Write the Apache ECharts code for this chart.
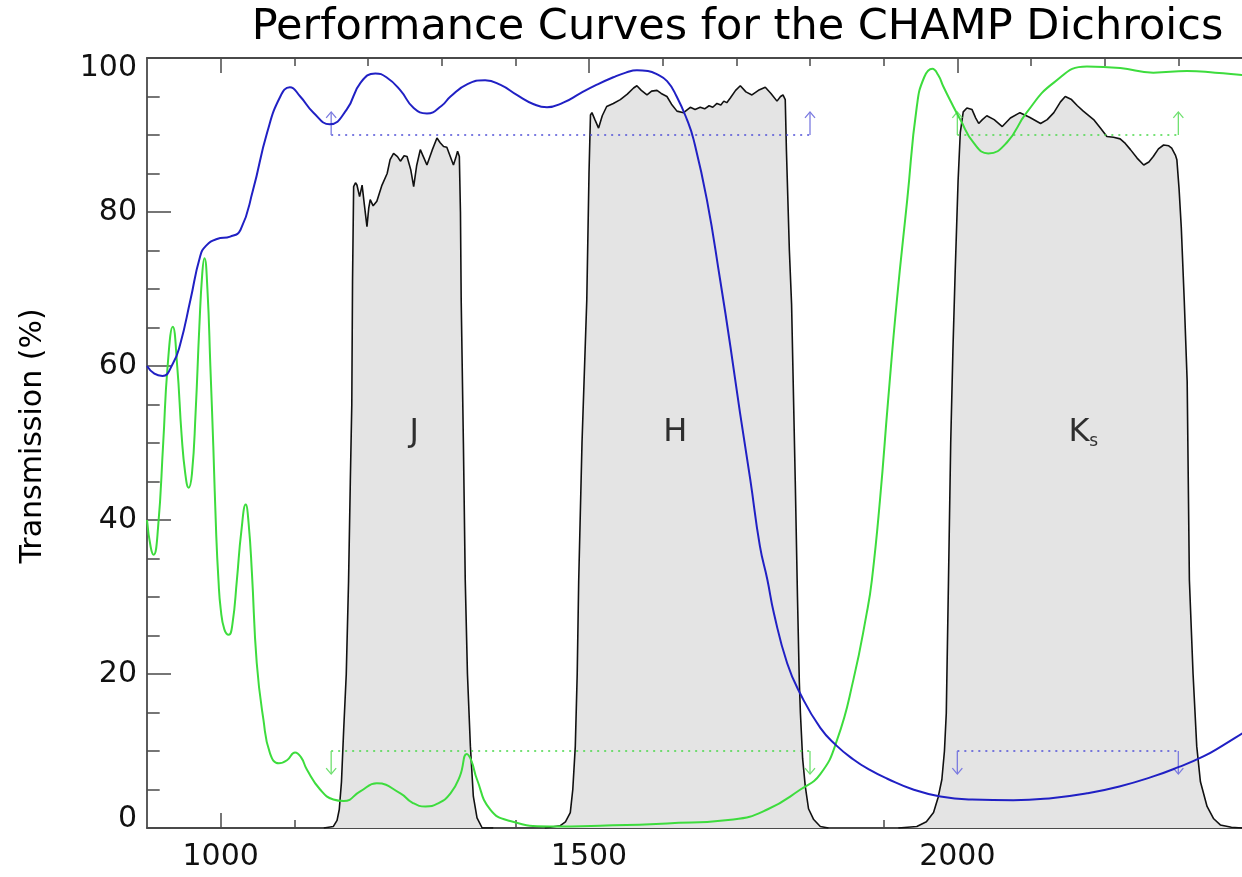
<!DOCTYPE html>
<html>
<head>
<meta charset="utf-8">
<script src="https://cdn.jsdelivr.net/npm/echarts@6/dist/echarts.min.js"></script>
<style>html,body{margin:0;padding:0;background:#fff}#c{width:1242px;height:877px}</style>
</head>
<body>
<div id="c"></div>
<script>
// ---------------- data ----------------
const titleText = 'Performance Curves for the CHAMP Dichroics';
const yTitle = 'Transmission (%)';
const xMajorTicks = [1000, 1500, 2000];
const xMinorTicks = [1100, 1200, 1300, 1400, 1600, 1700, 1800, 1900, 2100, 2200, 2300];

// Dichroic 1 (blue)
const blueCurve = [
  [900,60.0],[910,59.0],[921,58.7],[935,60.3],[945,62.8],[959,68.6],[972,74.2],[980,75.6],
  [995,76.5],[1013,76.8],[1027,77.7],[1044,82.9],[1063,90.3],[1081,95.0],[1094,96.2],[1108,95.0],
  [1126,92.9],[1148,91.4],[1171,93.3],[1190,96.8],[1210,98.0],[1225,97.5],[1244,95.8],[1262,93.5],
  [1280,92.8],[1300,93.8],[1312,95.0],[1335,96.6],[1359,97.1],[1380,96.5],[1402,95.2],[1425,94.0],
  [1443,93.6],[1465,94.2],[1488,95.4],[1510,96.5],[1533,97.5],[1550,98.1],[1565,98.4],[1580,98.3],
  [1592,97.9],[1606,97.0],[1619,95.0],[1633,92.0],[1642,89.4],[1660,81.6],[1678,71.2],[1692,62.5],
  [1705,53.9],[1719,45.2],[1732,36.6],[1742,32.3],[1751,27.9],[1769,21.4],[1787,17.4],[1814,13.0],
  [1836,10.7],[1859,8.9],[1880,7.6],[1905,6.4],[1940,5.0],[1977,4.1],[2020,3.7],[2076,3.6],
  [2130,3.9],[2176,4.5],[2220,5.4],[2266,6.7],[2300,7.9],[2334,9.3],[2360,10.7],[2387,12.3],[2400,13.1]
];

// Dichroic 2 (green)
const greenCurve = [
  [900,40.0],[905,36.5],[909,35.5],[915,39],[922,50],[928,60],[935,65.1],[941,60],[947,51],
  [952,46],[956.5,44.2],[961,46],[966,54],[971,65],[975,72],[978,74],[982,70],[986,60],
  [990,49.6],[994,38],[997,32.2],[1000,28.5],[1005,25.8],[1011,25.1],[1016,26.5],[1022,32.2],
  [1028,38.5],[1034,42.0],[1038,39.5],[1042.5,33],[1049,21.4],[1058,14.1],[1067,9.7],[1079,8.4],
  [1090,8.8],[1101,9.8],[1109,9.2],[1117,7.6],[1135,5.0],[1153,3.7],[1167,3.5],[1190,4.8],
  [1212,5.8],[1244,4.5],[1260,3.3],[1278,2.8],[1295,3.2],[1312,4.5],[1325,6.8],[1334,9.6],
  [1340,8.8],[1348,6.3],[1366,2.4],[1393,0.9],[1447,0.2],[1515,0.3],[1606,0.6],[1696,1.1],
  [1742,2.4],[1787,5.0],[1814,7.0],[1837,11.5],[1859,19.3],[1877,27.9],[1884,32.2],[1895,42.6],
  [1906,55.5],[1918,68.6],[1932,81.6],[1945,93.7],[1955,97.5],[1966,98.6],[1974,97.8],[1981,96.3],
  [1993,94.0],[2004,92.0],[2022,89.0],[2042,87.6],[2067,89.0],[2094,92.9],[2131,96.8],[2176,98.9],
  [2221,98.7],[2266,98.1],[2312,98.3],[2350,98.1],[2387,97.8],[2400,97.7]
];

// Filter bandpasses
const filterJ = [
  [1140,0],[1153,0.2],[1158,1.0],[1161,2.4],[1164,6],[1167,12.8],[1170.5,20],[1173.6,32],[1176,45],
  [1178,55],[1179,71],[1180.5,83.3],[1183,83.8],[1185,83.5],[1188.6,82.0],[1192,83.5],[1195,81],
  [1198.6,78.1],[1201,80.5],[1203,81.6],[1207,80.8],[1212,81.4],[1219,83.5],[1226,85.0],[1230,86.8],
  [1234.7,87.6],[1240,87.2],[1244,86.6],[1249,87.3],[1253,87.2],[1258,85.5],[1262,83.3],[1266,86],
  [1271,88.1],[1276,87],[1280,86.1],[1287,88],[1293.6,89.6],[1298,89],[1302.6,88.5],[1307,88.4],
  [1311.7,87.2],[1316,86.1],[1319,87],[1321.6,87.9],[1324,87.2],[1325.5,80],[1326.5,68.6],[1329.5,50],
  [1332,32.2],[1335,20],[1339,10.6],[1343,4.1],[1348,1.3],[1355,0],[1370,0]
];
const filterH = [
  [1440,0],[1461,0.3],[1468,0.8],[1474.6,2],[1478,5],[1481.4,10.6],[1484,20],[1486,32],[1490.5,50],
  [1497,68.6],[1500,85],[1502,92.6],[1504,92.9],[1508,92.0],[1513,90.9],[1518,92.5],[1524,93.7],
  [1533,94.1],[1542.5,94.6],[1552,95.3],[1560.5,96.1],[1565,96.4],[1571,95.8],[1578.7,95.2],[1585,95.7],
  [1592.3,95.8],[1598,95.4],[1605.8,95.0],[1612,94.0],[1619.4,93.1],[1628.4,92.9],[1637.5,93.6],
  [1644,93.3],[1651,93.6],[1657,93.4],[1663,93.8],[1668,93.6],[1673.7,94.1],[1679,93.9],[1683,94.4],
  [1687,94.2],[1691.8,94.8],[1699,95.8],[1705.4,96.4],[1713,95.6],[1721.2,95.2],[1730,95.8],
  [1739.3,96.2],[1747,95.4],[1755.2,94.4],[1760,95.0],[1763.3,95.2],[1766.4,94.6],[1768,88],
  [1772,75],[1775,68],[1780,45],[1783,30],[1785.5,19],[1787,14.9],[1790,9],[1793.6,5.4],[1798,2.5],
  [1805,1.1],[1814,0.2],[1825,0]
];
const filterKs = [
  [1920,0],[1945,0.2],[1958,0.8],[1967.7,2],[1974,4],[1979,6.3],[1982.5,10],[1985,14.9],[1988,32.2],
  [1991,50],[1994,62],[1997,72],[2001,84],[2004,90.3],[2008,93],[2013,93.5],[2020,93.3],[2025,92.2],
  [2029,91.5],[2034,92],[2040,92.5],[2050,92.0],[2061,91.1],[2072,92.2],[2085,92.9],[2098,92.3],
  [2113,91.5],[2122,92.0],[2131,92.9],[2140,94.3],[2146.5,95],[2155,94.6],[2163,93.8],[2171,93.1],
  [2185,92.0],[2195,90.8],[2203,89.8],[2212,89.7],[2221,89.5],[2228,88.9],[2235,88.1],[2244,87.0],
  [2253,86.1],[2260,86.5],[2266,87.2],[2273,88.2],[2280,88.7],[2287,88.6],[2291,88.3],[2296,87.4],
  [2298,86.8],[2301,83],[2304,78],[2308,68.6],[2312,58],[2315,32.2],[2320,20],[2325,10.6],[2330,6],
  [2339,2.8],[2348,1.2],[2357,0.4],[2372,0.1],[2387,0],[2400,0]
];

// Specification brackets: [from, to, level, direction (+1 up / -1 down)]
const blueSpec = [[1150, 1800, 90, 1], [2000, 2300, 10, -1]];
const greenSpec = [[2000, 2300, 90, 1], [1150, 1800, 10, -1]];

// Band names and anchor (wavelength, transmission)
const bandNames = ['J', 'H', 'Ks'];
const bandAnchors = [[1262.8, 51.4], [1617.1, 51.4], [2171, 51.4]];

// ---------------- chart ----------------
const FONT = '"DejaVu Sans", "Liberation Sans", Arial, sans-serif';
const AX = '#4a4a4a';
const chart = echarts.init(document.getElementById('c'), null, {renderer: 'canvas'});

function bracket(dotColor, arrowColor) {
  return function (params, api) {
    const x1 = api.value(0), x2 = api.value(1), y = api.value(2), dir = api.value(3);
    const a = api.coord([x1, y]), b = api.coord([x2, y]);
    const ta = api.coord([x1, y + dir * 3]), tb = api.coord([x2, y + dir * 3]);
    const w = 5, h = ta[1] < a[1] ? 6 : -6;
    const st = {stroke: arrowColor, lineWidth: 1.3, fill: null};
    const head = t => ({type: 'polyline', shape: {points: [[t[0] - w, t[1] + h], [t[0], t[1]], [t[0] + w, t[1] + h]]}, style: st});
    return {
      type: 'group',
      children: [
        {type: 'line', shape: {x1: a[0], y1: a[1], x2: b[0], y2: b[1]}, style: {stroke: dotColor, lineWidth: 1.6, lineDash: [2, 5]}},
        {type: 'line', shape: {x1: a[0], y1: a[1], x2: ta[0], y2: ta[1]}, style: st},
        {type: 'line', shape: {x1: b[0], y1: b[1], x2: tb[0], y2: tb[1]}, style: st},
        head(ta), head(tb)
      ]
    };
  };
}

function filterSeries(name, data) {
  return {
    name, type: 'line', data, showSymbol: false, symbol: 'none',
    lineStyle: {color: '#111', width: 1.6},
    areaStyle: {color: '#e4e4e4', opacity: 1},
    z: 1, silent: true
  };
}

const xBase = {type: 'value', min: 900, max: 2400, gridIndex: 0, splitLine: {show: false}};

const option = {
  animation: false,
  backgroundColor: '#fff',
  grid: {left: 147, top: 58, width: 1105, height: 770, containLabel: false, outerBoundsMode: 'none'},
  xAxis: [
    Object.assign({}, xBase, {
      position: 'bottom',
      axisLine: {show: true, lineStyle: {color: AX, width: 1.8}},
      axisTick: {show: true, inside: true, length: 15, customValues: xMajorTicks, lineStyle: {color: AX, width: 1.5}},
      axisLabel: {show: true, customValues: xMajorTicks, margin: 14, fontSize: 30, fontFamily: FONT, color: '#111',
        formatter: v => String(v)}
    }),
    Object.assign({}, xBase, {
      position: 'bottom',
      axisLine: {show: false},
      axisTick: {show: true, inside: true, length: 8, customValues: xMinorTicks, lineStyle: {color: AX, width: 1.5}},
      axisLabel: {show: false}
    }),
    Object.assign({}, xBase, {
      position: 'top',
      axisLine: {show: true, lineStyle: {color: AX, width: 1.8}},
      axisTick: {show: true, inside: true, length: 15, customValues: xMajorTicks, lineStyle: {color: AX, width: 1.5}},
      axisLabel: {show: false}
    }),
    Object.assign({}, xBase, {
      position: 'top',
      axisLine: {show: false},
      axisTick: {show: true, inside: true, length: 8, customValues: xMinorTicks, lineStyle: {color: AX, width: 1.5}},
      axisLabel: {show: false}
    })
  ],
  yAxis: [{
    type: 'value', min: 0, max: 100, interval: 20, position: 'left',
    splitLine: {show: false},
    axisLine: {show: true, lineStyle: {color: AX, width: 1.8}},
    axisTick: {show: true, inside: true, length: 24, lineStyle: {color: AX, width: 1.5}},
    minorTick: {show: true, splitNumber: 4, length: 12.7, lineStyle: {color: AX, width: 1.5}},
    minorSplitLine: {show: false},
    axisLabel: {
      show: true, margin: 10, fontSize: 30, fontFamily: FONT, color: '#111',
      showMinLabel: true, showMaxLabel: true,
      formatter: v => v === 0 ? '{lo|0}' : (v === 100 ? '{hi|100}' : String(v)),
      rich: {
        lo: {fontSize: 30, fontFamily: FONT, color: '#111', padding: [0, 0, 18, 0]},
        hi: {fontSize: 30, fontFamily: FONT, color: '#111', padding: [20, 0, 0, 0]}
      }
    }
  }],
  graphic: [
    {type: 'text', x: 737.5, y: 28, silent: true,
      style: {text: titleText, font: '43px ' + FONT, fill: '#000', align: 'center', verticalAlign: 'middle', textAlign: 'center', textVerticalAlign: 'middle'}},
    {type: 'text', x: 33, y: 436, rotation: Math.PI / 2, silent: true,
      style: {text: yTitle, font: '30px ' + FONT, fill: '#000', align: 'center', verticalAlign: 'middle', textAlign: 'center', textVerticalAlign: 'middle'}}
  ],
  series: [
    filterSeries('J', filterJ),
    filterSeries('H', filterH),
    filterSeries('Ks', filterKs),
    {
      name: 'blue spec', type: 'custom', renderItem: bracket('#5050d8', '#7b7be0'),
      data: blueSpec, z: 3, silent: true
    },
    {
      name: 'green spec', type: 'custom', renderItem: bracket('#4ad84a', '#70e070'),
      data: greenSpec, z: 3, silent: true
    },
    {
      name: 'Dichroic 2', type: 'line', data: greenCurve, showSymbol: false, symbol: 'none',
      smooth: 0.5, lineStyle: {color: '#3ddc3d', width: 2}, z: 4, silent: true
    },
    {
      name: 'Dichroic 1', type: 'line', data: blueCurve, showSymbol: false, symbol: 'none',
      smooth: 0.5, lineStyle: {color: '#2020c4', width: 2}, z: 5, silent: true
    },
    {
      name: 'bands', type: 'scatter', symbolSize: 0, z: 6, silent: true,
      data: bandAnchors.map((p, i) => ({value: p, name: bandNames[i]})),
      label: {
        show: true, position: 'inside', color: '#000', fontFamily: FONT, fontSize: 32,
        formatter: p => p.name === 'Ks' ? '{k|K}{s|s}' : p.name,
        rich: {
          k: {fontSize: 32, fontFamily: FONT, color: '#000'},
          s: {fontSize: 17, fontFamily: FONT, color: '#000', padding: [18, 0, 0, 0]}
        }
      }
    }
  ]
};
chart.setOption(option);
</script>
</body>
</html>
